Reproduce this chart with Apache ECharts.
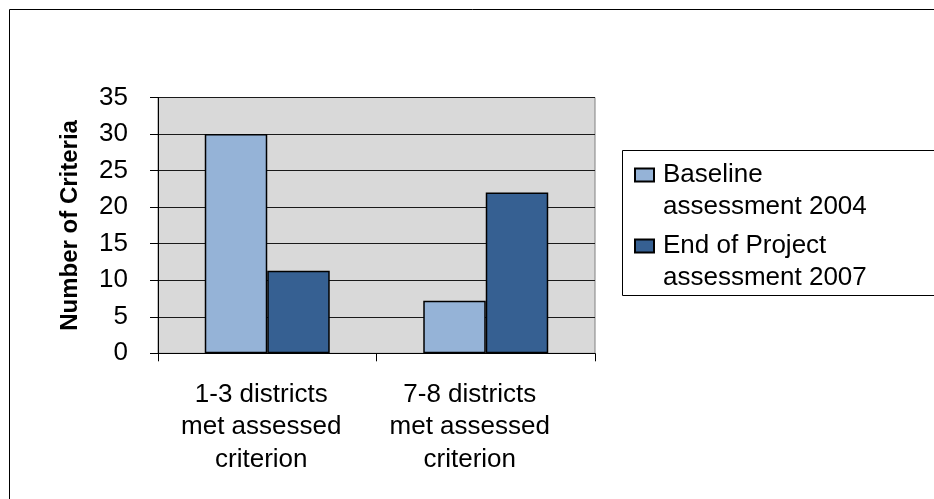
<!DOCTYPE html>
<html>
<head>
<meta charset="utf-8">
<script src="https://cdn.jsdelivr.net/npm/echarts@6/dist/echarts.min.js"></script>
<style>
html,body{margin:0;padding:0;background:#fff;}
#chart{width:934px;height:499px;}
</style>
</head>
<body>
<div id="chart"></div>
<script>
const categories = ['1-3 districts\nmet assessed\ncriterion', '7-8 districts\nmet assessed\ncriterion'];
const seriesNames = ['Baseline\nassessment 2004', 'End of Project\nassessment 2007'];
const baseline2004 = [30, 7.2];
const endProject2007 = [11.3, 22];
const yTicks = {min: 0, max: 35, interval: 5};
const colors = ['#95B3D7', '#366092'];
const labelShift = [12, 32];

const FONT = 'Liberation Sans, Arial, sans-serif';
const chart = echarts.init(document.getElementById('chart'));
chart.setOption({
  animation: false,
  backgroundColor: '#fff',
  grid: {left: 158, right: 339, top: 97.5, bottom: 145.7, show: true, backgroundColor: '#d9d9d9', borderColor: '#808080', borderWidth: 1},
  graphic: [
    {type: 'rect', z: -10, shape: {x: 9.5, y: 9.5, width: 1000, height: 1000}, style: {fill: 'none', stroke: '#000', lineWidth: 1}},
    {type: 'rect', z: 1, shape: {x: 622.5, y: 150.5, width: 400, height: 145}, style: {fill: '#fff', stroke: '#000', lineWidth: 1}}
  ],
  legend: {
    orient: 'vertical', left: 634, top: 162, padding: 0, itemGap: 13,
    itemWidth: 19, itemHeight: 13, icon: 'rect', selectedMode: false, z: 5,
    data: seriesNames,
    formatter: function (name) {
      const parts = name.split('\n');
      return '{a|' + parts[0] + '}\n{b|' + parts[1] + '}';
    },
    textStyle: {
      fontFamily: FONT, fontSize: 26, color: '#000',
      rich: {
        a: {fontFamily: FONT, fontSize: 26, height: 32, color: '#000', padding: [32, 0, 0, 4]},
        b: {fontFamily: FONT, fontSize: 26, height: 32, color: '#000', padding: [0, 0, 0, 4]}
      }
    }
  },
  xAxis: {
    type: 'category',
    data: categories.map((c, i) => ({value: c, textStyle: {padding: [0, labelShift[i], 0, 0]}})),
    axisLine: {lineStyle: {color: '#000', width: 1}},
    axisTick: {show: true, length: 8, lineStyle: {color: '#000'}},
    axisLabel: {interval: 0, margin: 25, fontFamily: FONT, fontSize: 26, lineHeight: 32.5, color: '#000'}
  },
  yAxis: {
    type: 'value', min: yTicks.min, max: yTicks.max, interval: yTicks.interval,
    name: 'Number of Criteria', nameLocation: 'middle', nameGap: 76,
    nameTextStyle: {fontFamily: FONT, fontSize: 24, fontWeight: 'bold', color: '#000'},
    axisLine: {show: true, lineStyle: {color: '#000', width: 1}},
    axisTick: {show: true, length: 8, lineStyle: {color: '#000'}},
    axisLabel: {margin: 30, fontFamily: FONT, fontSize: 26, color: '#000'},
    splitLine: {show: true, lineStyle: {color: '#1a1a1a', width: 1}}
  },
  series: [
    {name: seriesNames[0], type: 'bar', data: baseline2004, barGap: '0%', barCategoryGap: '42.8%',
     itemStyle: {color: colors[0], borderColor: '#000', borderWidth: 1.5}},
    {name: seriesNames[1], type: 'bar', data: endProject2007, barGap: '0%', barCategoryGap: '42.8%',
     itemStyle: {color: colors[1], borderColor: '#000', borderWidth: 1.5}}
  ]
});
</script>
</body>
</html>
